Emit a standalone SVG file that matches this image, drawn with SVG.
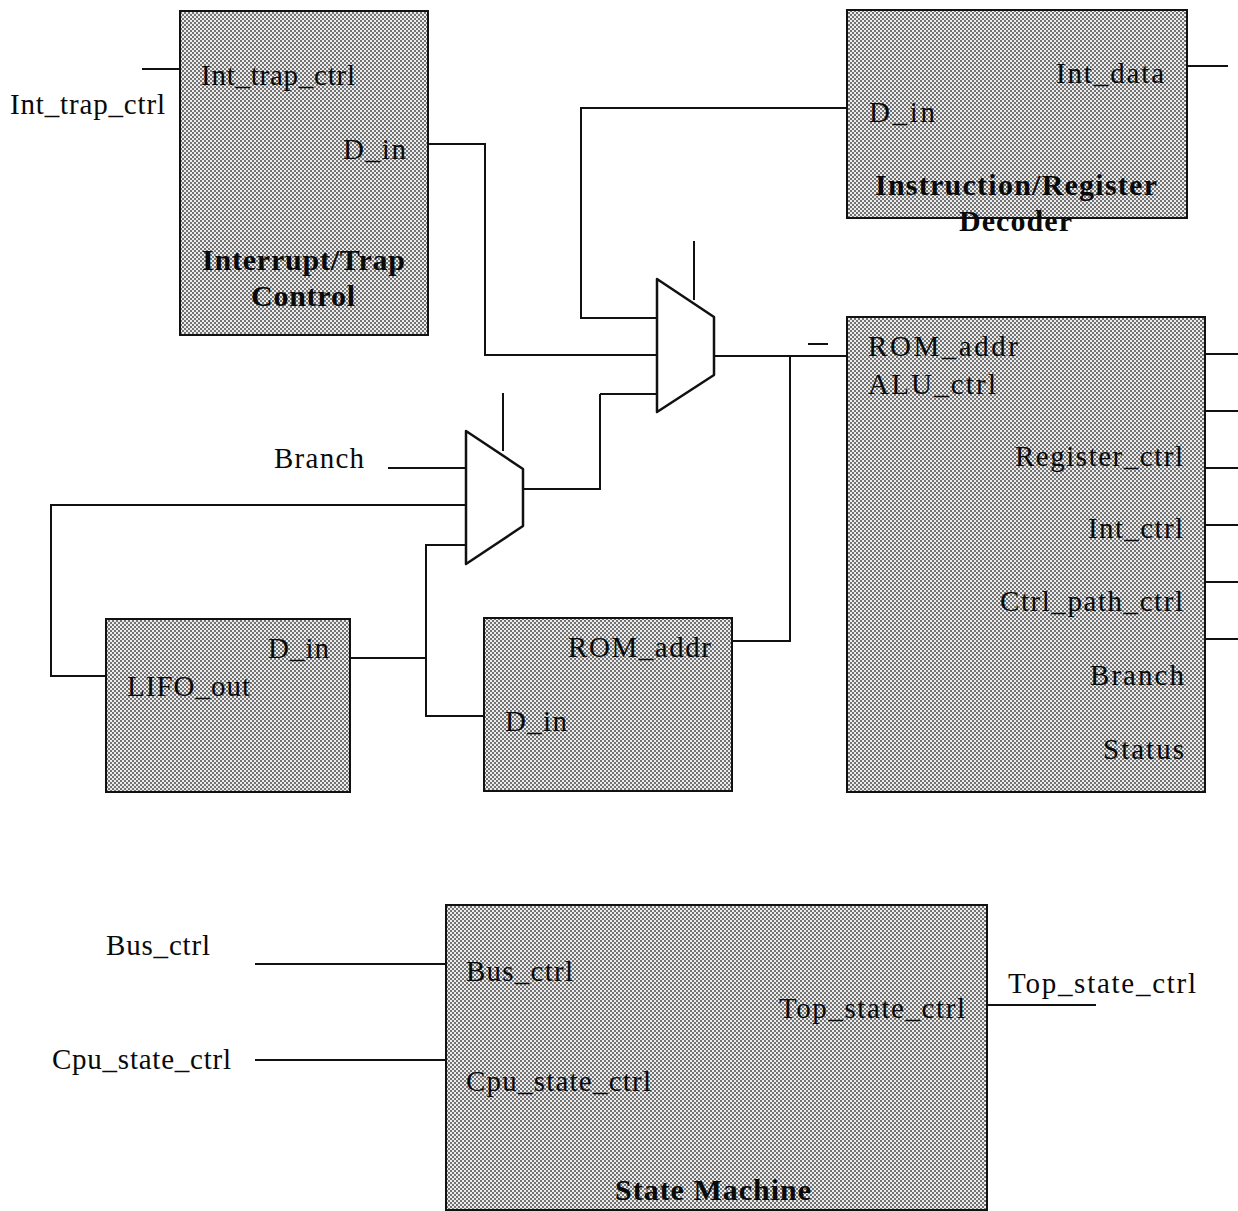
<svg xmlns="http://www.w3.org/2000/svg" width="1238" height="1211" viewBox="0 0 1238 1211">
<defs>
<pattern id="dots" width="4" height="4" patternUnits="userSpaceOnUse">
<rect width="4" height="4" fill="#ececec"/>
<rect x="0" y="0" width="2" height="2" fill="#737373"/>
<rect x="2" y="2" width="2" height="2" fill="#737373"/>
</pattern>
</defs>
<style>
text{font-family:"Liberation Serif","Times New Roman",serif;font-size:29px;fill:#0a0a0a}
.b{font-weight:700;font-size:30px}
.box{fill:url(#dots);stroke:#111;stroke-width:2}
.mux{fill:#fff;stroke:#111;stroke-width:2.5;stroke-linejoin:round}
#connectors path{fill:none;stroke:#111;stroke-width:2}
</style>
<rect width="1238" height="1211" fill="#fff"/>
<g id="connectors">
<path d="M142 69H180"/>
<path d="M427 144H485V355H657"/>
<path d="M847 108H581V318H657"/>
<path d="M694 241V300"/>
<path d="M503 393V451"/>
<path d="M714 356H847"/>
<path d="M808 344H828"/>
<path d="M790 356V641H732"/>
<path d="M600 394H657M600 394V489H523"/>
<path d="M388 468H466"/>
<path d="M466 505H51V676H106"/>
<path d="M466 545H426V716H484"/>
<path d="M350 658H426"/>
<path d="M1187 66H1228"/>
<path d="M1205 354H1238M1205 411H1238M1205 468H1238M1205 525H1238M1205 582H1238M1205 639H1238"/>
<path d="M255 964H446"/>
<path d="M255 1060H446"/>
<path d="M987 1005H1096"/>
</g>
<g id="interrupt-trap-control">
<rect class="box" x="180" y="11" width="248" height="324"/>
<text x="201" y="85" textLength="154">Int_trap_ctrl</text>
<text x="343" y="159" textLength="63">D_in</text>
<text class="b" x="202" y="270" textLength="203">Interrupt/Trap</text>
<text class="b" x="251" y="306" textLength="104">Control</text>
</g>
<g id="instruction-register-decoder">
<rect class="box" x="847" y="10" width="340" height="208"/>
<text x="1056" y="83" textLength="108">Int_data</text>
<text x="869" y="122" textLength="66">D_in</text>
<text class="b" x="875" y="195" textLength="282">Instruction/Register</text>
<text class="b" x="959" y="231" textLength="113">Decoder</text>
</g>
<g id="mux-upper">
<polygon class="mux" points="657,279 714,317 714,375 657,412"/>
</g>
<g id="mux-lower">
<polygon class="mux" points="466,431 523,469 523,526 466,564"/>
</g>
<g id="branch-label"><text x="274" y="468" textLength="90">Branch</text></g>
<g id="int-trap-label"><text x="10" y="114" textLength="155">Int_trap_ctrl</text></g>
<g id="rom-control">
<rect class="box" x="847" y="317" width="358" height="475"/>
<text x="868" y="356" textLength="150">ROM_addr</text>
<text x="868" y="394" textLength="128">ALU_ctrl</text>
<text x="1015" y="466" textLength="168">Register_ctrl</text>
<text x="1088" y="538" textLength="95">Int_ctrl</text>
<text x="1000" y="611" textLength="183">Ctrl_path_ctrl</text>
<text x="1090" y="685" textLength="94">Branch</text>
<text x="1103" y="759" textLength="81">Status</text>
</g>
<g id="lifo">
<rect class="box" x="106" y="619" width="244" height="173"/>
<text x="268" y="658" textLength="61">D_in</text>
<text x="127" y="696" textLength="123">LIFO_out</text>
</g>
<g id="rom-addr">
<rect class="box" x="484" y="618" width="248" height="173"/>
<text x="568" y="657" textLength="143">ROM_addr</text>
<text x="505" y="731" textLength="62">D_in</text>
</g>
<g id="state-machine">
<rect class="box" x="446" y="905" width="541" height="305"/>
<text x="466" y="981" textLength="107">Bus_ctrl</text>
<text x="466" y="1091" textLength="185">Cpu_state_ctrl</text>
<text x="779" y="1018" textLength="186">Top_state_ctrl</text>
<text class="b" x="615" y="1200" textLength="196">State Machine</text>
</g>
<g id="outer-labels">
<text x="106" y="955" textLength="104">Bus_ctrl</text>
<text x="52" y="1069" textLength="179">Cpu_state_ctrl</text>
<text x="1008" y="993" textLength="188">Top_state_ctrl</text>
</g>
</svg>
